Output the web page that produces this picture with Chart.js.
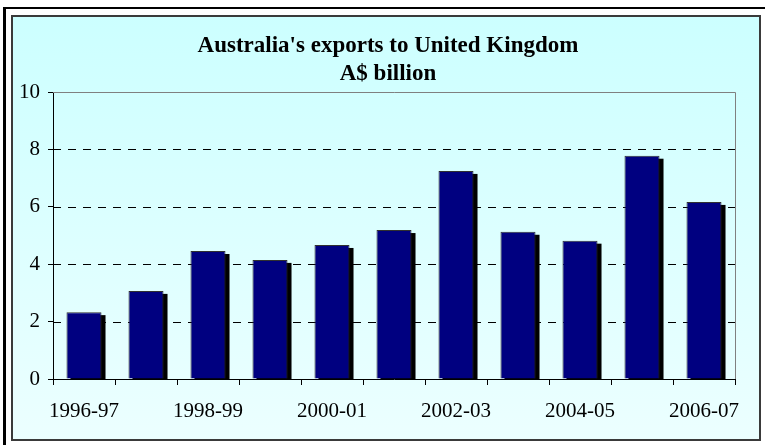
<!DOCTYPE html>
<html>
<head>
<meta charset="utf-8">
<script src="https://cdn.jsdelivr.net/npm/chart.js@4/dist/chart.umd.min.js"></script>
<style>
  html, body { margin: 0; padding: 0; background: #ffffff; }
  #wrap { width: 765px; height: 445px; position: relative; }
</style>
</head>
<body>
<div id="wrap"><canvas id="c" width="765" height="445"></canvas></div>
<script>
// ---- data ----
const categories = ['1996-97','1997-98','1998-99','1999-00','2000-01','2001-02','2002-03','2003-04','2004-05','2005-06','2006-07'];
const exportValues = [2.33, 3.07, 4.46, 4.15, 4.67, 5.19, 7.25, 5.13, 4.82, 7.78, 6.17];
const yMin = 0;
const yMax = 10;
const yStep = 2;
const titleLines = ["Australia's exports to United Kingdom", "A$ billion"];

const SERIF = '"Liberation Serif", "Times New Roman", serif';

const framePlugin = {
  id: 'frame',
  beforeDraw(chart) {
    const ctx = chart.ctx;
    ctx.save();
    ctx.fillStyle = '#ffffff';
    ctx.fillRect(0, 0, chart.width, chart.height);
    // outer black border (top and left)
    ctx.fillStyle = '#000000';
    ctx.fillRect(3, 7, chart.width - 3, 2);
    ctx.fillRect(3, 7, 3, chart.height - 7);
    // inner gradient panel
    const g = ctx.createLinearGradient(0, 16, 0, 441);
    g.addColorStop(0, '#CCFFFF');
    g.addColorStop(1, '#ECFFFF');
    ctx.fillStyle = g;
    ctx.fillRect(12, 16, 748, 424);
    ctx.strokeStyle = '#3a3a3a';
    ctx.lineWidth = 2;
    ctx.strokeRect(12, 16, 748, 424);
    // title
    ctx.fillStyle = '#000000';
    ctx.font = 'bold 23px ' + SERIF;
    ctx.textAlign = 'center';
    ctx.textBaseline = 'alphabetic';
    ctx.fillText(titleLines[0], 388, 52);
    ctx.fillText(titleLines[1], 388, 80);
    ctx.restore();
  },
  beforeDatasetsDraw(chart) {
    const ctx = chart.ctx;
    const area = chart.chartArea;
    const y = chart.scales.y;
    ctx.save();
    // dashed gridlines
    ctx.strokeStyle = '#000000';
    ctx.lineWidth = 1;
    ctx.setLineDash([8, 7]);
    for (let v = yMin + yStep; v < yMax; v += yStep) {
      const py = Math.round(y.getPixelForValue(v)) + 0.5;
      ctx.beginPath();
      ctx.moveTo(area.left, py);
      ctx.lineTo(area.right, py);
      ctx.stroke();
    }
    ctx.setLineDash([]);
    // top and right plot borders
    ctx.strokeStyle = '#808080';
    const top = Math.round(y.getPixelForValue(yMax)) + 0.5;
    ctx.beginPath();
    ctx.moveTo(area.left, top);
    ctx.lineTo(Math.round(area.right) + 0.5, top);
    ctx.lineTo(Math.round(area.right) + 0.5, area.bottom);
    ctx.stroke();
    // bar shadows
    ctx.beginPath();
    ctx.rect(area.left, area.top, area.right - area.left, area.bottom - area.top);
    ctx.clip();
    ctx.fillStyle = '#000000';
    const meta = chart.getDatasetMeta(0);
    meta.data.forEach(bar => {
      const p = bar.getProps(['x', 'y', 'base', 'width'], true);
      ctx.fillRect(p.x - p.width / 2 + 4, p.y + 3, p.width, p.base - p.y);
    });
    ctx.restore();
  }
};

new Chart(document.getElementById('c'), {
  type: 'bar',
  data: {
    labels: categories,
    datasets: [{
      data: exportValues,
      backgroundColor: '#000080',
      borderColor: '#303030',
      borderWidth: 1,
      borderSkipped: 'bottom',
      barPercentage: 0.565,
      categoryPercentage: 1.0
    }]
  },
  options: {
    responsive: false,
    animation: false,
    devicePixelRatio: 1,
    layout: { padding: { top: 92, right: 30, left: 0, bottom: 0 } },
    plugins: {
      legend: { display: false },
      title: { display: false },
      tooltip: { enabled: false }
    },
    scales: {
      x: {
        offset: true,
        grid: {
          offset: true,
          drawOnChartArea: false,
          drawTicks: true,
          tickLength: 6,
          tickColor: '#000000',
          color: '#000000'
        },
        border: { display: true, color: '#000000', width: 1 },
        ticks: {
          autoSkip: false,
          maxRotation: 0,
          minRotation: 0,
          padding: 14,
          color: '#000000',
          font: { family: SERIF, size: 21 },
          callback: function (val, idx) {
            return idx % 2 === 0 ? this.getLabelForValue(val) : '';
          }
        },
        afterFit(scale) { scale.height = 66; }
      },
      y: {
        min: yMin,
        max: yMax,
        grid: {
          drawOnChartArea: false,
          drawTicks: true,
          tickLength: 5,
          tickColor: '#000000',
          color: '#000000'
        },
        border: { display: true, color: '#000000', width: 1 },
        ticks: {
          stepSize: yStep,
          padding: 8,
          color: '#000000',
          font: { family: SERIF, size: 21 }
        },
        afterFit(scale) { scale.width = 53; }
      }
    }
  },
  plugins: [framePlugin]
});
</script>
</body>
</html>
